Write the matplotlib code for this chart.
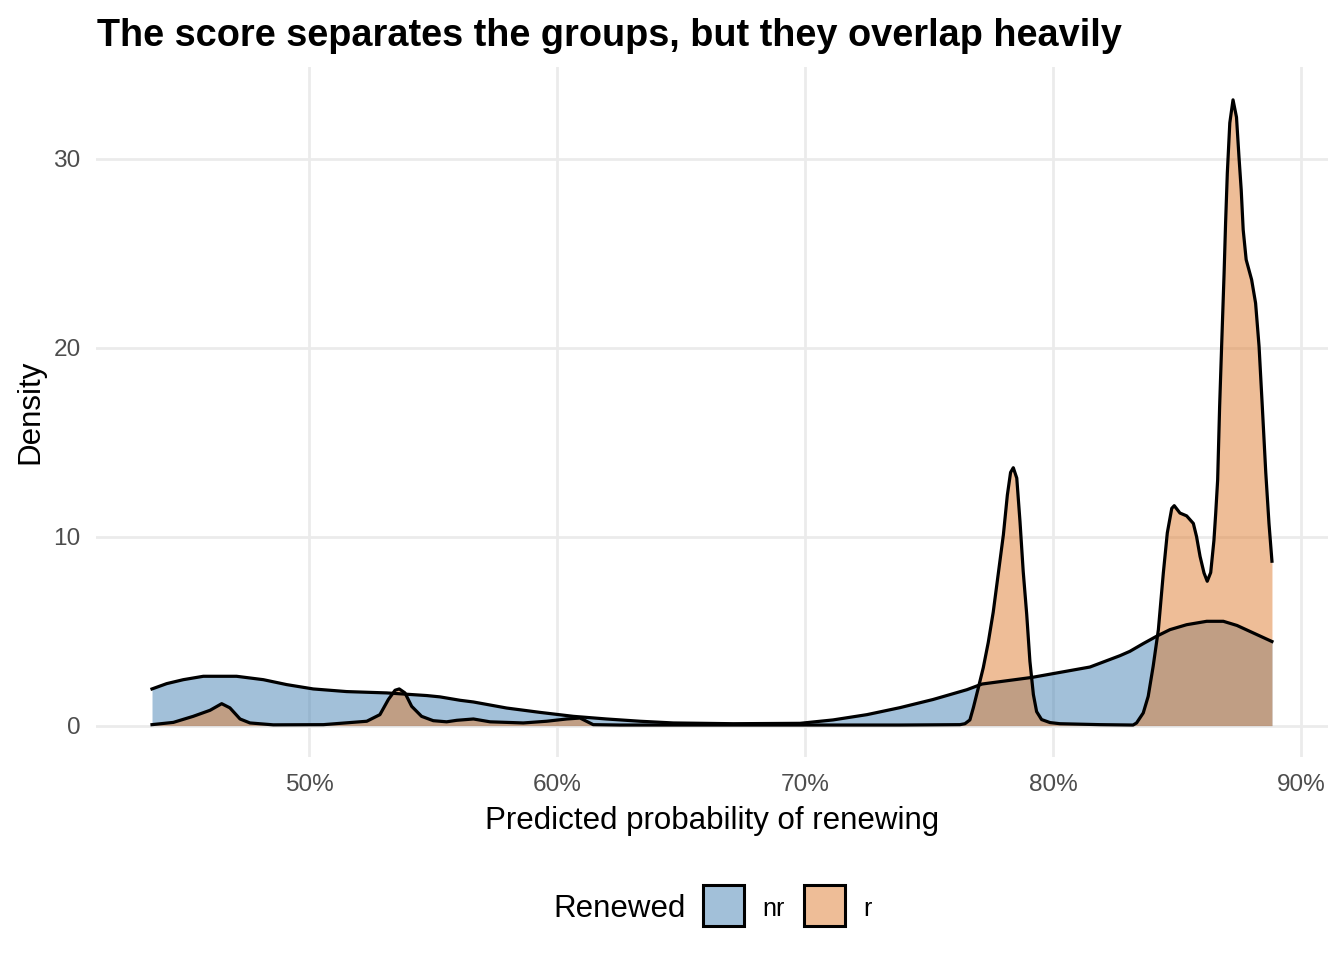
import matplotlib
matplotlib.use("Agg")
import matplotlib.pyplot as plt
from matplotlib.patches import Rectangle

plt.rcParams['font.family'] = ['Liberation Sans', 'DejaVu Sans']

# density of predicted probability (in %) for customers who did not renew
nr_x = [43.67, 44.26, 44.93, 45.74, 47.08, 48.16, 49.10, 50.17, 51.52, 53.13, 54.75,
        55.28, 56.09, 56.63, 57.97, 59.31, 60.66, 62.0, 63.35, 64.69, 67.1, 69.8,
        71.13, 72.5, 73.83, 75.16, 76.53, 77.14, 79.15, 80.0, 81.49, 82.7, 83.1,
        83.64, 84.18, 84.72, 85.39, 86.2, 86.87, 87.42, 88.83]
nr_y = [1.94, 2.22, 2.43, 2.61, 2.61, 2.43, 2.17, 1.94, 1.8, 1.73, 1.59,
        1.52, 1.34, 1.25, 0.93, 0.7, 0.49, 0.35, 0.23, 0.14, 0.1, 0.12,
        0.3, 0.58, 0.95, 1.38, 1.9, 2.2, 2.55, 2.75, 3.1, 3.7, 3.93,
        4.34, 4.73, 5.08, 5.34, 5.52, 5.52, 5.3, 4.45]

# density for customers who renewed
r_x = [43.67, 44.53, 45.33, 46.01, 46.48, 46.81, 47.22, 47.62, 48.56, 50.58, 52.33,
       52.86, 53.2, 53.47, 53.64, 53.87, 54.14, 54.54, 55.01, 55.55, 55.96, 56.63,
       57.3, 58.64, 59.58, 60.39, 60.93, 61.46, 62.54, 65.77, 69.8, 73.83, 76.25,
       76.45, 76.65, 76.79, 76.99, 77.19, 77.39, 77.59, 77.79, 78.0, 78.16, 78.29,
       78.4, 78.54, 78.67, 78.8, 78.94, 79.07, 79.21, 79.34, 79.54, 79.88, 80.28,
       81.9, 83.23, 83.37, 83.64, 83.84, 84.04, 84.25, 84.45, 84.61, 84.79, 84.89,
       85.12, 85.39, 85.66, 85.79, 85.93, 86.09, 86.22, 86.36, 86.49, 86.56, 86.64,
       86.72, 86.8, 86.9, 86.96, 87.03, 87.13, 87.26, 87.4, 87.5, 87.59, 87.67,
       87.79, 88.01, 88.17, 88.31, 88.44, 88.58, 88.71, 88.83]
r_y = [0.05, 0.17, 0.49, 0.81, 1.16, 0.94, 0.35, 0.14, 0.04, 0.05, 0.23,
       0.58, 1.38, 1.87, 1.94, 1.73, 1.02, 0.49, 0.26, 0.2, 0.28, 0.35,
       0.2, 0.14, 0.23, 0.35, 0.4, 0.05, 0.03, 0.03, 0.03, 0.03, 0.05,
       0.1, 0.3, 0.95, 2.0, 3.07, 4.4, 6.0, 8.0, 10.1, 12.2, 13.4,
       13.65, 13.1, 10.8, 8.15, 5.9, 3.4, 1.64, 0.74, 0.32, 0.16, 0.1,
       0.05, 0.03, 0.14, 0.67, 1.55, 3.14, 5.08, 8.08, 10.2, 11.5, 11.64,
       11.25, 11.1, 10.7, 10.0, 8.96, 8.08, 7.64, 8.1, 9.8, 11.2, 13.0,
       16.9, 20.07, 23.95, 26.6, 29.24, 31.9, 33.12, 32.2, 30.1, 28.36, 26.24,
       24.66, 23.6, 22.36, 20.07, 16.9, 13.4, 10.7, 8.7]

groups = ["nr", "r"]
colors = {"nr": "#4682B4", "r": "#DF7D31"}
series = {"nr": (nr_x, nr_y), "r": (r_x, r_y)}

x_ticks = [50, 60, 70, 80, 90]
y_ticks = [0, 10, 20, 30]

fig = plt.figure(figsize=(13.44, 9.6), dpi=100)
ax = fig.add_axes([0.0714, 0.2115, 0.9167, 0.71875])

for g in groups:
    xs, ys = series[g]
    ax.fill_between(xs, 0, ys, color=colors[g], alpha=0.5, linewidth=0)
    ax.plot(xs, ys, color="black", linewidth=2.3, solid_joinstyle="round")

ax.set_xlim(41.41, 91.09)
ax.set_ylim(-1.66, 34.86)
ax.set_xticks(x_ticks)
ax.set_xticklabels([f"{t}%" for t in x_ticks])
ax.set_yticks(y_ticks)

ax.grid(True, color="#EBEBEB", linewidth=2.0)
ax.set_axisbelow(True)
for s in ax.spines.values():
    s.set_visible(False)
ax.tick_params(length=0, labelsize=17.6, labelcolor="#4D4D4D")
ax.tick_params(axis="y", pad=11)
ax.tick_params(axis="x", pad=12)

ax.set_xlabel("Predicted probability of renewing", fontsize=22.5)
ax.xaxis.label.set_va("center")
ax.xaxis.set_label_coords(0.5, -0.093)
ax.set_ylabel("Density", fontsize=22.5)
ax.yaxis.label.set_va("center")
ax.yaxis.set_label_coords(-0.0536, 0.5)

fig.text(0.0722, 0.963, "The score separates the groups, but they overlap heavily",
         fontsize=27.3, fontweight="bold", ha="left", va="center")

# legend along the bottom
fig.text(0.4115, 0.0535, "Renewed", fontsize=22.5, ha="left", va="center")
box_x = {"nr": 0.5231, "r": 0.5982}
lab_x = {"nr": 0.567, "r": 0.6421}
for g in groups:
    fig.patches.append(Rectangle((box_x[g], 0.0354), 0.0305, 0.0427,
                                 transform=fig.transFigure, facecolor=colors[g],
                                 alpha=0.5, edgecolor="none"))
    fig.patches.append(Rectangle((box_x[g], 0.0354), 0.0305, 0.0427,
                                 transform=fig.transFigure, facecolor="none",
                                 edgecolor="black", linewidth=2.2))
    fig.text(lab_x[g], 0.0535, g, fontsize=18, ha="left", va="center")

fig.savefig("out.png", dpi=100)
